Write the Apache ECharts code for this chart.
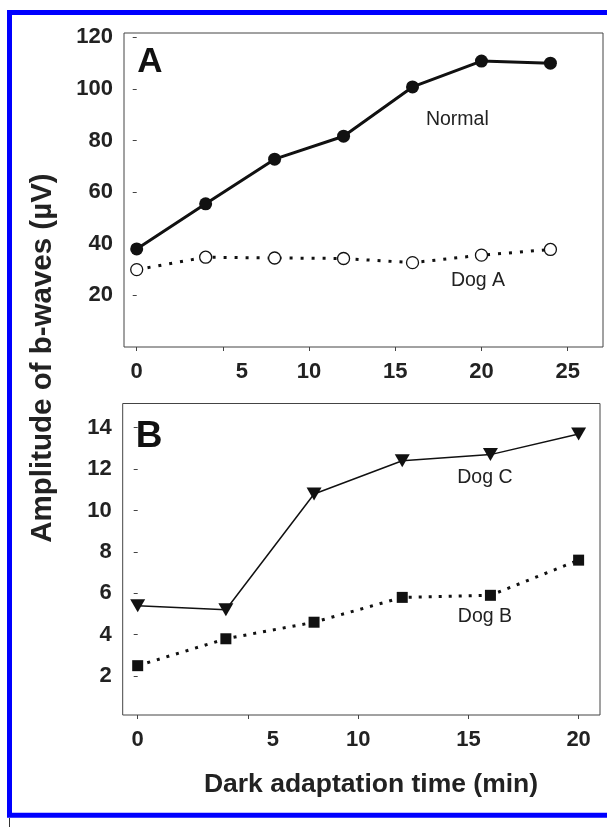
<!DOCTYPE html>
<html>
<head>
<meta charset="utf-8">
<script src="https://cdn.jsdelivr.net/npm/echarts@6/dist/echarts.min.js"></script>
<style>html,body{margin:0;padding:0;background:#fff}#c{width:607px;height:827px}</style>
</head>
<body>
<div id="c"></div>
<script>
// Panel A data (time in min, amplitude in µV)
const timeA = [0, 4, 8, 12, 16, 20, 24];
const normal = [38, 55.5, 72.8, 81.7, 100.8, 110.8, 110];
const dogA = [30, 34.8, 34.5, 34.3, 32.7, 35.6, 37.8];
const ticksXA = [0, 5, 10, 15, 20, 25];
const ticksYA = [20, 40, 60, 80, 100, 120];

// Panel B data
const timeB = [0, 4, 8, 12, 16, 20];
const dogC = [5.4, 5.2, 10.8, 12.4, 12.7, 13.7];
const dogB = [2.5, 3.8, 4.6, 5.8, 5.9, 7.6];
const ticksXB = [0, 5, 10, 15, 20];
const ticksYB = [2, 4, 6, 8, 10, 12, 14];

// Series name labels: [text, x, y, grid]
const seriesLabels = [
  ['Normal', 18.6, 88.1, 0],
  ['Dog A', 19.8, 25.7, 0],
  ['Dog C', 15.75, 11.57, 1],
  ['Dog B', 15.75, 4.85, 1]
];

const FONT = "'Liberation Sans', Arial, Helvetica, sans-serif";
const pair = (xs, ys) => xs.map((x, i) => [x, ys[i]]);

function xAxisCfg(grid, min, max, ticks, shift5) {
  return {
    type: 'value', gridIndex: grid, min: min, max: max,
    axisLine: { show: false },
    splitLine: { show: false },
    axisTick: { show: true, customValues: ticks, length: 4, lineStyle: { color: '#444', width: 1 } },
    axisLabel: {
      customValues: ticks, margin: 14, color: '#222', fontSize: 22, fontWeight: 'bold', fontFamily: FONT,
      formatter: v => v === 5 ? '{o|5}' : String(v),
      rich: { o: { padding: [0, 0, 0, shift5], color: '#222', fontSize: 22, fontWeight: 'bold', fontFamily: FONT } }
    }
  };
}
function yAxisCfg(grid, min, max, ticks) {
  return {
    type: 'value', gridIndex: grid, min: min, max: max,
    axisLine: { show: false },
    splitLine: { show: false },
    axisTick: { show: true, customValues: ticks, length: 4, lineStyle: { color: '#444', width: 1 } },
    axisLabel: { customValues: ticks, margin: 11, color: '#222', fontSize: 22, fontWeight: 'bold', fontFamily: FONT }
  };
}

const chart = echarts.init(document.getElementById('c'), null, { renderer: 'canvas' });
const baseGraphic = [
  { type: 'rect', silent: true, shape: { x: 9.5, y: 12.5, width: 640, height: 802.7 },
    style: { fill: 'none', stroke: '#0000ff', lineWidth: 5 } },
  { type: 'line', silent: true, shape: { x1: 9.5, y1: 818, x2: 9.5, y2: 827 }, style: { stroke: '#333', lineWidth: 1 } },
  { type: 'text', x: 150, y: 62, style: { text: 'A', fill: '#111', font: 'bold 35px ' + FONT, align: 'center', verticalAlign: 'middle' } },
  { type: 'text', x: 149, y: 437, style: { text: 'B', fill: '#111', font: 'bold 37px ' + FONT, align: 'center', verticalAlign: 'middle' } },
  { type: 'text', x: 371, y: 785, style: { text: 'Dark adaptation time (min)', fill: '#222', font: 'bold 26.5px ' + FONT, align: 'center', verticalAlign: 'middle' } },
  { type: 'text', x: 43, y: 358, rotation: Math.PI / 2, style: { text: 'Amplitude of b-waves (\u00b5V)', fill: '#222', font: 'bold 29.5px ' + FONT, align: 'center', verticalAlign: 'middle' } }
];
chart.setOption({
  animation: false,
  backgroundColor: '#fff',
  grid: [
    { left: 124, top: 33, width: 479, height: 314, show: true, borderColor: '#444', borderWidth: 1, backgroundColor: 'transparent' },
    { left: 122.7, top: 403.5, width: 477.3, height: 311.5, show: true, borderColor: '#444', borderWidth: 1, backgroundColor: 'transparent' }
  ],
  xAxis: [
    xAxisCfg(0, -0.737, 27.05, ticksXA, 38),
    xAxisCfg(1, -0.68, 20.97, ticksXB, 50)
  ],
  yAxis: [
    yAxisCfg(0, 0, 121.7, ticksYA),
    yAxisCfg(1, 0.116, 15.17, ticksYB)
  ],
  series: [
    { name: 'Normal', type: 'line', xAxisIndex: 0, yAxisIndex: 0, data: pair(timeA, normal),
      symbol: 'circle', symbolSize: 13, itemStyle: { color: '#111' },
      lineStyle: { color: '#111', width: 3 } },
    { name: 'Dog A', type: 'line', xAxisIndex: 0, yAxisIndex: 0, data: pair(timeA, dogA),
      symbol: 'circle', symbolSize: 12, itemStyle: { color: '#fff', borderColor: '#111', borderWidth: 1.3 },
      lineStyle: { color: '#111', width: 3, type: [3, 8] } },
    { name: 'Dog C', type: 'line', xAxisIndex: 1, yAxisIndex: 1, data: pair(timeB, dogC),
      symbol: 'triangle', symbolRotate: 180, symbolSize: [15, 13], itemStyle: { color: '#111' },
      lineStyle: { color: '#111', width: 1.5 } },
    { name: 'Dog B', type: 'line', xAxisIndex: 1, yAxisIndex: 1, data: pair(timeB, dogB),
      symbol: 'rect', symbolSize: 11, itemStyle: { color: '#111' },
      lineStyle: { color: '#111', width: 3, type: [3, 7] } }
  ],
  graphic: baseGraphic
});

const labelGraphic = seriesLabels.map(([t, x, y, g]) => {
  const p = chart.convertToPixel({ gridIndex: g }, [x, y]);
  return { type: 'text', x: p[0], y: p[1], silent: true,
    style: { text: t, fill: '#222', font: '19.5px ' + FONT, align: 'center', verticalAlign: 'middle' } };
});
chart.setOption({ graphic: baseGraphic.concat(labelGraphic) }, { replaceMerge: ['graphic'] });
</script>
</body>
</html>
